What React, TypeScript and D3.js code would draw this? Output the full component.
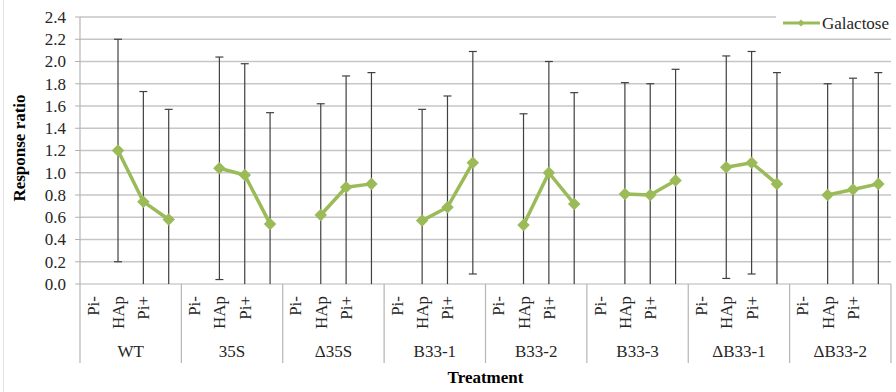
import React from "react";
import * as d3 from "d3";

const groups = ["WT", "35S", "Δ35S", "B33-1", "B33-2", "B33-3", "ΔB33-1", "ΔB33-2"];
const subLabels = ["Pi-", "HAp", "Pi+", ""];
// Galactose response ratio per group, one value per sub-category slot (first slot empty)
const galactose: (number | null)[][] = [
  [null, 1.2, 0.74, 0.58],
  [null, 1.04, 0.98, 0.54],
  [null, 0.62, 0.87, 0.9],
  [null, 0.57, 0.69, 1.09],
  [null, 0.53, 1.0, 0.72],
  [null, 0.81, 0.8, 0.93],
  [null, 1.05, 1.09, 0.9],
  [null, 0.8, 0.85, 0.9],
];
const errors: (number | null)[][] = [
  [null, 1.0, 0.99, 0.99],
  [null, 1.0, 1.0, 1.0],
  [null, 1.0, 1.0, 1.0],
  [null, 1.0, 1.0, 1.0],
  [null, 1.0, 1.0, 1.0],
  [null, 1.0, 1.0, 1.0],
  [null, 1.0, 1.0, 1.0],
  [null, 1.0, 1.0, 1.0],
];
const yTicks = [0, 0.2, 0.4, 0.6, 0.8, 1.0, 1.2, 1.4, 1.6, 1.8, 2.0, 2.2, 2.4];
const seriesName = "Galactose";
const yTitle = "Response ratio";
const xTitle = "Treatment";

const W = 896;
const H = 392;
const left = 80;
const right = 891;
const top = 17;
const bottom = 284;
const font = "Liberation Serif, Times New Roman, DejaVu Serif, serif";
const green = "#9bbb59";
const txt = { fontFamily: font };

export default function App() {
  const x = d3.scaleBand<string>().domain(groups).range([left, right]).padding(0);
  const sub = d3.scaleBand<string>().domain(subLabels.map((_, i) => String(i))).range([0, x.bandwidth()]).padding(0);
  const y = d3.scaleLinear().domain([0, 2.4]).range([bottom, top]);
  const cx = (g: number, s: number) => (x(groups[g]) as number) + (sub(String(s)) as number) + sub.bandwidth() / 2;
  const line = d3
    .line<{ g: number; s: number; v: number | null }>()
    .defined((d) => d.v !== null)
    .x((d) => cx(d.g, d.s))
    .y((d) => y(d.v as number));
  const diamond = d3.symbol().type(d3.symbolDiamond2).size(100)();
  const diamondSmall = d3.symbol().type(d3.symbolDiamond2).size(30)();

  return (
    <svg width={W} height={H} style={{ position: "absolute", left: 0, top: 0, background: "#fff" }}>
      <line x1={3.5} x2={3.5} y1={0} y2={H} stroke="#e4e4e4" />
      {/* gridlines */}
      {yTicks.map((t) => (
        <g key={t}>
          {t > 0 && <line x1={left} x2={t === 2.4 ? 776 : right} y1={y(t)} y2={y(t)} stroke="#c6c6c6" strokeWidth={1.4} />}
          <line x1={left - 5} x2={left} y1={y(t)} y2={y(t)} stroke="#b0b0b0" />
          <text x={66} y={y(t)} dy="0.35em" textAnchor="end" fontSize={17} fill="#262626" style={txt}>
            {t.toFixed(1)}
          </text>
        </g>
      ))}
      {/* axes */}
      <line x1={left} x2={left} y1={top} y2={363} stroke="#b5b5b5" strokeWidth={1.2} />
      <line x1={left} x2={right} y1={bottom} y2={bottom} stroke="#b5b5b5" strokeWidth={1.2} />
      {groups.map((g, gi) => (
        <g key={g}>
          <line x1={(x(g) as number) + x.bandwidth()} x2={(x(g) as number) + x.bandwidth()} y1={bottom} y2={363} stroke="#b5b5b5" strokeWidth={1.2} />
          {subLabels.map((s, si) =>
            s ? (
              <text key={si} transform={`translate(${cx(gi, si) + 6},296) rotate(-90)`} textAnchor="end" fontSize={17} fill="#262626" style={txt}>
                {s}
              </text>
            ) : null
          )}
          <text x={(x(g) as number) + x.bandwidth() / 2} y={357} textAnchor="middle" fontSize={17} fill="#262626" style={txt}>
            {g}
          </text>
        </g>
      ))}
      {/* error bars */}
      {galactose.map((vals, gi) =>
        vals.map((v, si) => {
          const e = errors[gi][si];
          if (v === null || e === null) return null;
          const px = cx(gi, si);
          const hi = v + e;
          const lo = v - e;
          return (
            <g key={`${gi}-${si}`} stroke="#404040" strokeWidth={1.2}>
              <line x1={px} x2={px} y1={y(hi)} y2={y(Math.max(0, lo))} />
              <line x1={px - 4} x2={px + 4} y1={y(hi)} y2={y(hi)} />
              {lo > 0.02 && <line x1={px - 4} x2={px + 4} y1={y(lo)} y2={y(lo)} />}
            </g>
          );
        })
      )}
      {/* series line */}
      {galactose.map((vals, gi) => (
        <path key={gi} d={line(vals.map((v, si) => ({ g: gi, s: si, v }))) || ""} fill="none" stroke={green} strokeWidth={3.5} strokeLinejoin="round" />
      ))}
      {galactose.map((vals, gi) =>
        vals.map((v, si) =>
          v === null ? null : <path key={`m${gi}-${si}`} d={diamond || ""} transform={`translate(${cx(gi, si)},${y(v)})`} fill={green} />
        )
      )}
      {/* legend */}
      <rect x={776} y={4} width={118} height={32} fill="#fff" />
      <line x1={783} x2={820} y1={23} y2={23} stroke={green} strokeWidth={3} />
      <path d={diamondSmall || ""} transform="translate(801,23)" fill={green} />
      <text x={822} y={29} fontSize={17} fill="#262626" style={txt}>
        {seriesName}
      </text>
      {/* titles */}
      <text transform={`translate(25,148) rotate(-90)`} textAnchor="middle" fontSize={17} fontWeight="bold" fill="#000" style={txt}>
        {yTitle}
      </text>
      <text x={(left + right) / 2} y={383} textAnchor="middle" fontSize={17} fontWeight="bold" fill="#000" style={txt}>
        {xTitle}
      </text>
    </svg>
  );
}
